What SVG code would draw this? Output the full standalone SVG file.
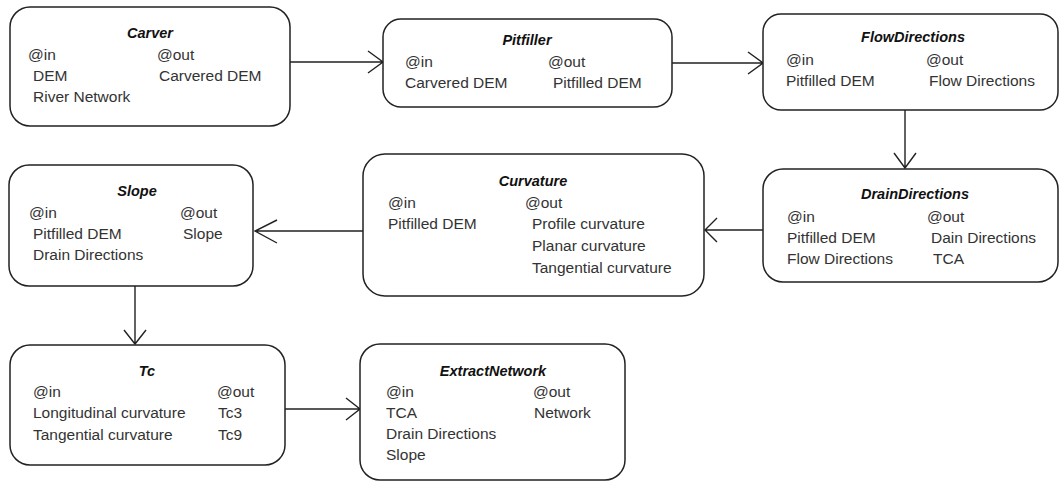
<svg xmlns="http://www.w3.org/2000/svg" width="1060" height="482" viewBox="0 0 1060 482">
<style>
.box{fill:#fff;stroke:#222;stroke-width:1.5}
.t{font-family:"Liberation Sans",Arial,sans-serif;font-size:14.5px;font-weight:bold;font-style:italic;fill:#111;text-anchor:middle}
.b{font-family:"Liberation Sans",Arial,sans-serif;font-size:15.5px;fill:#333}
.c{fill:none;stroke:#222;stroke-width:1.4}
</style>
<rect width="1060" height="482" fill="#fff"/>
<g id="connectors" class="c">
<path d="M290 62H383M368 51L383 62L368 73"/>
<path d="M672 63H763M748 52L763 63L748 74"/>
<path d="M905 110V168M894 153L905 168L916 153"/>
<path d="M763 230H705M717 218L705 230L717 242"/>
<path d="M363 231H255M277 220L255 231L277 243"/>
<path d="M135 286V344M124 330L135 344L146 330"/>
<path d="M285 409H360M346 398L360 409L346 420"/>
</g>
<g id="carver">
<rect class="box" x="10" y="7" width="280" height="119" rx="20"/>
<text class="t" x="150" y="38">Carver</text>
<text class="b" x="28" y="60">@in</text>
<text class="b" x="157" y="60">@out</text>
<text class="b" x="33" y="81">DEM</text>
<text class="b" x="159" y="81">Carvered DEM</text>
<text class="b" x="33" y="102">River Network</text>
</g>
<g id="pitfiller">
<rect class="box" x="383" y="19" width="289" height="88" rx="18"/>
<text class="t" x="527" y="45">Pitfiller</text>
<text class="b" x="405" y="67">@in</text>
<text class="b" x="548" y="67">@out</text>
<text class="b" x="405" y="88">Carvered DEM</text>
<text class="b" x="553" y="88">Pitfilled DEM</text>
</g>
<g id="flowdirections">
<rect class="box" x="763" y="14" width="295" height="96" rx="18"/>
<text class="t" x="913" y="42">FlowDirections</text>
<text class="b" x="786" y="65">@in</text>
<text class="b" x="926" y="65">@out</text>
<text class="b" x="786" y="86">Pitfilled DEM</text>
<text class="b" x="929" y="86">Flow Directions</text>
</g>
<g id="draindirections">
<rect class="box" x="763" y="169" width="295" height="113" rx="20"/>
<text class="t" x="915" y="199">DrainDirections</text>
<text class="b" x="787" y="222">@in</text>
<text class="b" x="927" y="222">@out</text>
<text class="b" x="787" y="243">Pitfilled DEM</text>
<text class="b" x="931" y="243">Dain Directions</text>
<text class="b" x="787" y="264">Flow Directions</text>
<text class="b" x="933" y="264">TCA</text>
</g>
<g id="curvature">
<rect class="box" x="363" y="154" width="341" height="142" rx="22"/>
<text class="t" x="533" y="186">Curvature</text>
<text class="b" x="388" y="208">@in</text>
<text class="b" x="525" y="208">@out</text>
<text class="b" x="388" y="229">Pitfilled DEM</text>
<text class="b" x="532" y="229">Profile curvature</text>
<text class="b" x="532" y="251">Planar curvature</text>
<text class="b" x="532" y="273">Tangential curvature</text>
</g>
<g id="slope">
<rect class="box" x="9" y="165" width="244" height="121" rx="20"/>
<text class="t" x="137" y="196">Slope</text>
<text class="b" x="29" y="218">@in</text>
<text class="b" x="180" y="218">@out</text>
<text class="b" x="33" y="239">Pitfilled DEM</text>
<text class="b" x="183" y="239">Slope</text>
<text class="b" x="33" y="260">Drain Directions</text>
</g>
<g id="tc">
<rect class="box" x="10" y="345" width="275" height="120" rx="20"/>
<text class="t" x="147" y="376">Tc</text>
<text class="b" x="33" y="397">@in</text>
<text class="b" x="217" y="397">@out</text>
<text class="b" x="33" y="418">Longitudinal curvature</text>
<text class="b" x="218" y="418">Tc3</text>
<text class="b" x="33" y="440">Tangential curvature</text>
<text class="b" x="218" y="440">Tc9</text>
</g>
<g id="extractnetwork">
<rect class="box" x="360" y="344" width="265" height="136" rx="20"/>
<text class="t" x="493" y="376">ExtractNetwork</text>
<text class="b" x="386" y="397">@in</text>
<text class="b" x="533" y="397">@out</text>
<text class="b" x="386" y="418">TCA</text>
<text class="b" x="534" y="418">Network</text>
<text class="b" x="386" y="439">Drain Directions</text>
<text class="b" x="386" y="460">Slope</text>
</g>
</svg>
